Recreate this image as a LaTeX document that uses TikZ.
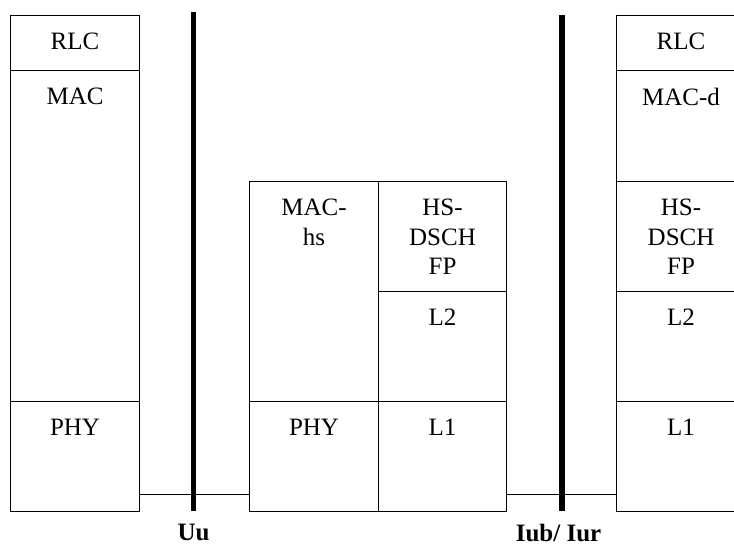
\documentclass[tikz,border=0pt]{standalone}
\usepackage{fontspec}
\setmainfont{Liberation Serif}
\usetikzlibrary{positioning}
\tikzset{
  layer/.style={draw, line width=0.8pt, inner sep=0pt, anchor=north west},
  lname/.style={inner sep=0pt, align=center, font=\fontsize{18.75}{22}\selectfont},
  iface/.style={line width=4.2pt},
  ifname/.style={inner sep=0pt, font=\fontsize{18.75}{22}\selectfont\bfseries},
  link/.style={line width=0.7pt},
}
\begin{document}
\begin{tikzpicture}[x=0.75pt,y=-0.75pt]
    \clip (0,0) rectangle (734,546);

    % UE stack
    \node[layer, minimum width=96.75pt, minimum height=41.25pt] (ueRLC) at (10,15) {};
    \node[layer, minimum width=96.75pt, minimum height=248.25pt] (ueMAC) at (10,70) {};
    \node[layer, minimum width=96.75pt, minimum height=82.5pt] (uePHY) at (10,401) {};
    \node[lname, below=13.5pt of ueRLC.north] (ueRLCt) {RLC};
    \node[lname, below=13.5pt of ueMAC.north] (ueMACt) {MAC};
    \node[lname, below=13.5pt of uePHY.north] (uePHYt) {PHY};

    % Node B stack
    \node[layer, minimum width=96.75pt, minimum height=165pt] (nbMAC) at (249,181) {};
    \node[layer, minimum width=96.75pt, minimum height=82.5pt] (nbPHY) at (249,401) {};
    \node[layer, minimum width=96pt, minimum height=82.5pt] (nbFP) at (378,181) {};
    \node[layer, minimum width=96pt, minimum height=82.5pt] (nbL2) at (378,291) {};
    \node[layer, minimum width=96pt, minimum height=82.5pt] (nbL1) at (378,401) {};
    \node[lname, below=13.5pt of nbMAC.north] (nbMACt) {MAC-\\hs};
    \node[lname, below=13.5pt of nbPHY.north] (nbPHYt) {PHY};
    \node[lname, below=13.5pt of nbFP.north] (nbFPt) {HS-\\DSCH\\FP};
    \node[lname, below=13.5pt of nbL2.north] (nbL2t) {L2};
    \node[lname, below=13.5pt of nbL1.north] (nbL1t) {L1};

    % RNC stack
    \node[layer, minimum width=96.75pt, minimum height=41.25pt] (rncRLC) at (616,15) {};
    \node[layer, minimum width=96.75pt, minimum height=83.25pt] (rncMAC) at (616,70) {};
    \node[layer, minimum width=96.75pt, minimum height=82.5pt] (rncFP) at (616,181) {};
    \node[layer, minimum width=96.75pt, minimum height=82.5pt] (rncL2) at (616,291) {};
    \node[layer, minimum width=96.75pt, minimum height=82.5pt] (rncL1) at (616,401) {};
    \node[lname, below=13.5pt of rncRLC.north] (rncRLCt) {RLC};
    \node[lname, below=13.5pt of rncMAC.north] (rncMACt) {MAC-d};
    \node[lname, below=13.5pt of rncFP.north] (rncFPt) {HS-\\DSCH\\FP};
    \node[lname, below=13.5pt of rncL2.north] (rncL2t) {L2};
    \node[lname, below=13.5pt of rncL1.north] (rncL1t) {L1};

    % physical links
    \draw[link] ([yshift=13.5pt]uePHY.south east) -- ([yshift=13.5pt]nbPHY.south west);
    \draw[link] ([yshift=13.5pt]nbL1.south east) -- ([yshift=13.5pt]rncL1.south west);

    % interfaces
    \coordinate (uuTop) at (193.5,12);
    \coordinate (uuBot) at (193.5,511);
    \coordinate (iubTop) at (562,15);
    \coordinate (iubBot) at (562,511);
    \draw[iface] (uuTop) -- (uuBot);
    \draw[iface] (iubTop) -- (iubBot);
    \node[ifname, below=10pt of uuBot] (uu) {Uu};
    \node[ifname, below=10pt of iubBot, xshift=-2.6pt] (iub) {Iub/ Iur};
\end{tikzpicture}
\end{document}
